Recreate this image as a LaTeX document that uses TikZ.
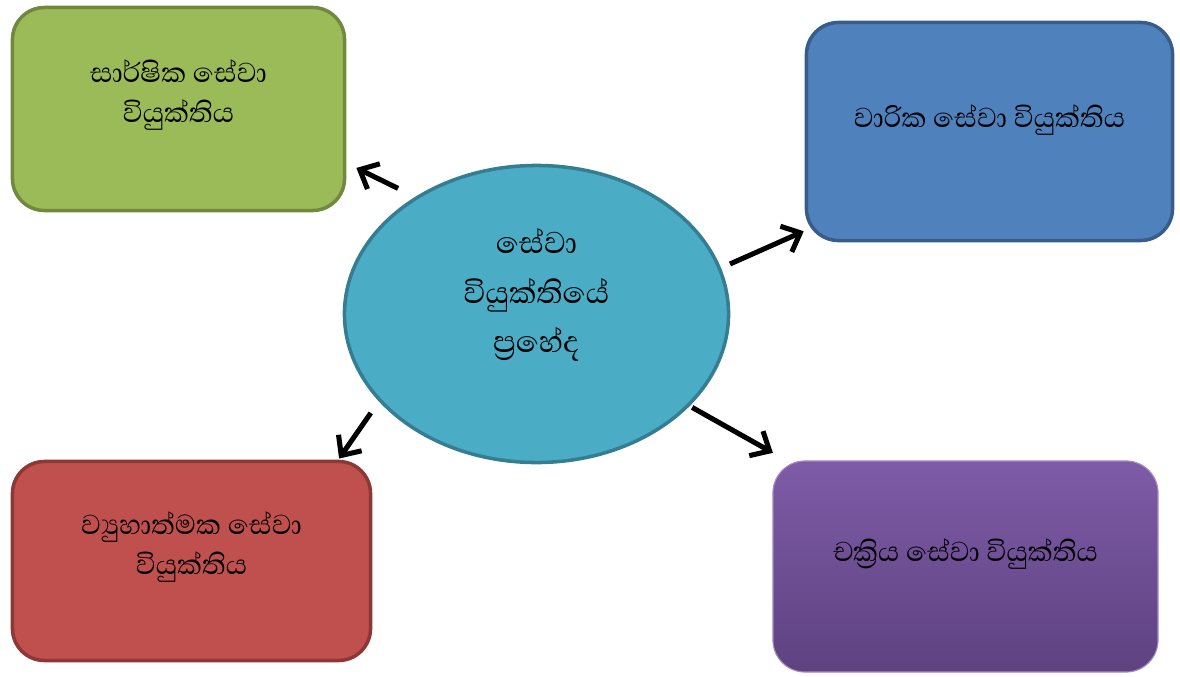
\documentclass[tikz,border=0pt]{standalone}
\usepackage{fontspec}
\newfontfamily\sinhala[Script=Sinhala]{Abhaya Libre}
\usepackage{tikz}
\usetikzlibrary{shapes.geometric}
\usetikzlibrary{arrows.meta, calc}
\usepackage{xcolor}
\definecolor{greenFill}{HTML}{9BBB59}
\definecolor{greenLine}{HTML}{71893F}
\definecolor{blueFill}{HTML}{4F81BD}
\definecolor{blueLine}{HTML}{385D8A}
\definecolor{redFill}{HTML}{C0504D}
\definecolor{redLine}{HTML}{8C3836}
\definecolor{tealFill}{HTML}{4BACC6}
\definecolor{tealLine}{HTML}{357D91}
\definecolor{purpleTop}{HTML}{7E5BA7}
\definecolor{purpleBot}{HTML}{5E4280}
\newcommand{\boxFont}{\sinhala\fontsize{25}{28}\selectfont}
\newcommand{\ovalFont}{\sinhala\fontsize{27.5}{35}\selectfont}
\tikzset{
  typebox/.style={rectangle, rounded corners=0.8cm, line width=2.5pt, inner sep=0pt},
  boxtext/.style={align=center, font=\boxFont, inner sep=0pt},
  arr/.style={line width=3.6pt, -{Straight Barb[length=11pt,width=20pt]}}
}

\begin{document}
\begin{tikzpicture}[x=0.025cm,y=-0.025cm]
\useasboundingbox (0,0) rectangle (1180,677);
% the four kinds
\node[typebox, fill=greenFill, draw=greenLine, minimum width=8.3cm, minimum height=5.075cm] (annual) at (178.5,109) {};
\node[typebox, fill=blueFill, draw=blueLine, minimum width=9.15cm, minimum height=5.45cm] (seasonal) at (989.5,131.5) {};
\node[typebox, fill=redFill, draw=redLine, minimum width=8.95cm, minimum height=4.975cm] (structural) at (191.5,561) {};
\node[typebox, top color=purpleTop, middle color=purpleTop!85!purpleBot, bottom color=purpleBot, draw=purpleTop!70!white, line width=0.8pt, minimum width=9.625cm, minimum height=5.275cm] (cyclical) at (965.5,566.5) {};
% centre
\node[ellipse, fill=tealFill, draw=tealLine, line width=2.5pt, minimum width=9.6cm, minimum height=7.425cm, inner sep=0pt] (types) at (536.5,314) {};

\node[boxtext, yshift=10pt] (annualtxt) at (annual.center) {සාර්ෂික සේවා\\වියුක්තිය};
\node[boxtext, yshift=8.5pt] (seasonaltxt) at (seasonal.center) {වාරික සේවා වියුක්තිය};
\node[boxtext, yshift=10pt] (structuraltxt) at (structural.center) {ව්‍යුහාත්මක සේවා\\වියුක්තිය};
\node[boxtext, yshift=9pt] (cyclicaltxt) at (cyclical.center) {චක්‍රිය සේවා වියුක්තිය};
\node[boxtext, font=\ovalFont, yshift=13.5pt] (typestxt) at (types.center) {සේවා\\වියුක්තියේ\\ප්‍රහේද};

% arrows out of the oval
\draw[arr, shorten <=13.5pt, shorten >=8pt] (types.136.7) -- ($(annual.east)+(0,54)$);
\draw[arr, shorten <=7pt] (types.14.1) -- ($(seasonal.south west)+(-1,-11)$);
\draw[arr, shorten <=10pt, shorten >=1pt] (types.209.1) -- ($(structural.north east)+(-34,0)$);
\draw[arr, shorten <=2pt, shorten >=11pt] (types.329.5) -- ($(cyclical.north west)+(14,0)$);
\end{tikzpicture}
\end{document}
